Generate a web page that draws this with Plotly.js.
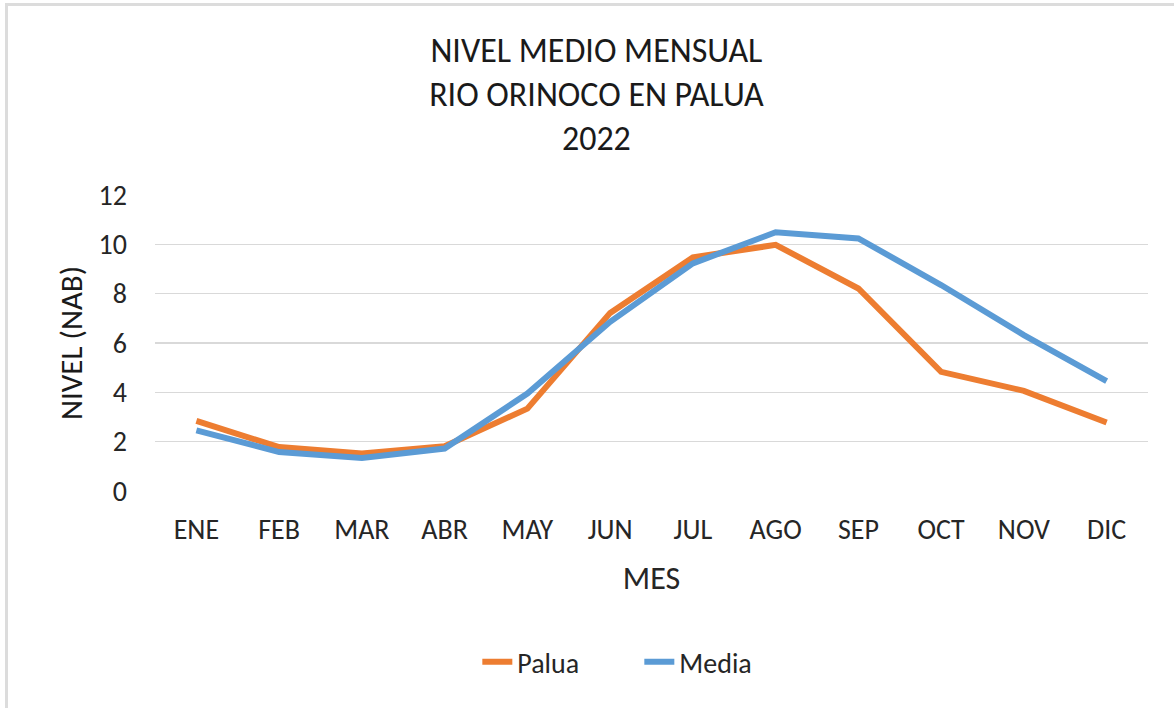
<!DOCTYPE html>
<html>
<head>
<meta charset="utf-8">
<script src="https://cdn.plot.ly/plotly-3.0.1.min.js"></script>
<style>
  html, body { margin: 0; padding: 0; background: #fff; }
  #wrap { position: absolute; left: 0; top: 0; width: 1174px; height: 708px; background:#fff; }
  #bl { position: absolute; left: 5px; top: 3px; width: 3px; height: 705px; background: #dcdcdc; }
  #bt { position: absolute; left: 5px; top: 3px; width: 1169px; height: 3px; background: #dcdcdc; }
  #chart { position: absolute; left: 0; top: 0; width: 1174px; height: 708px; }
</style>
</head>
<body>
<div id="wrap">
  <div id="chart"></div>
  <div id="bl"></div>
  <div id="bt"></div>
</div>
<script>
const months = ["ENE","FEB","MAR","ABR","MAY","JUN","JUL","AGO","SEP","OCT","NOV","DIC"];
const palua = [2.84, 1.78, 1.52, 1.81, 3.34, 7.22, 9.47, 9.98, 8.21, 4.83, 4.06, 2.78];
const media = [2.46, 1.58, 1.34, 1.72, 3.95, 6.86, 9.23, 10.49, 10.24, 8.35, 6.32, 4.45];
const titleText = "NIVEL MEDIO MENSUAL<br>RIO ORINOCO EN PALUA<br>2022";
const yTitle = "NIVEL (NAB)";
const xTitle = "MES";

const FONT = "Carlito, Lato, sans-serif";

const traces = [
  { x: months, y: palua, name: "Palua", type: "scatter", mode: "lines",
    line: { color: "#ED7D31", width: 6 } },
  { x: months, y: media, name: "Media", type: "scatter", mode: "lines",
    line: { color: "#5B9BD5", width: 6 } }
];

const layout = {
  width: 1174, height: 708,
  paper_bgcolor: "rgba(0,0,0,0)", plot_bgcolor: "#fff",
  margin: { l: 155, r: 26, t: 195, b: 217 },
  font: { family: FONT, color: "#262626", size: 28 },
  title: { text: titleText, font: { family: FONT, size: 34, color: "#1a1a1a" },
           x: 0.508, xanchor: "center", y: 0.913, yanchor: "top" },
  xaxis: {
    type: "category", range: [-0.5, 11.5],
    showgrid: false, zeroline: false, showline: false, ticks: "",
    ticklabelstandoff: 19,
    tickfont: { family: FONT, size: 28, color: "#262626" },
    title: { text: xTitle, font: { family: FONT, size: 32, color: "#262626" }, standoff: 20 }
  },
  yaxis: {
    range: [0, 12], dtick: 2, tick0: 0,
    showgrid: true, gridcolor: "#d9d9d9", gridwidth: 1.5,
    zeroline: false, showline: false, ticks: "",
    ticklabelstandoff: 27,
    tickfont: { family: FONT, size: 28, color: "#262626" },
    title: { text: yTitle, font: { family: FONT, size: 31, color: "#1a1a1a" }, standoff: 6 }
  },
  showlegend: true,
  legend: { orientation: "h", x: 0.3246, xanchor: "left", y: -0.578, yanchor: "middle",
            font: { family: FONT, size: 28, color: "#262626" },
            entrywidth: 117, entrywidthmode: "pixels",
            bgcolor: "rgba(0,0,0,0)" }
};

Plotly.newPlot("chart", traces, layout, { displayModeBar: false, staticPlot: true });
</script>
</body>
</html>
